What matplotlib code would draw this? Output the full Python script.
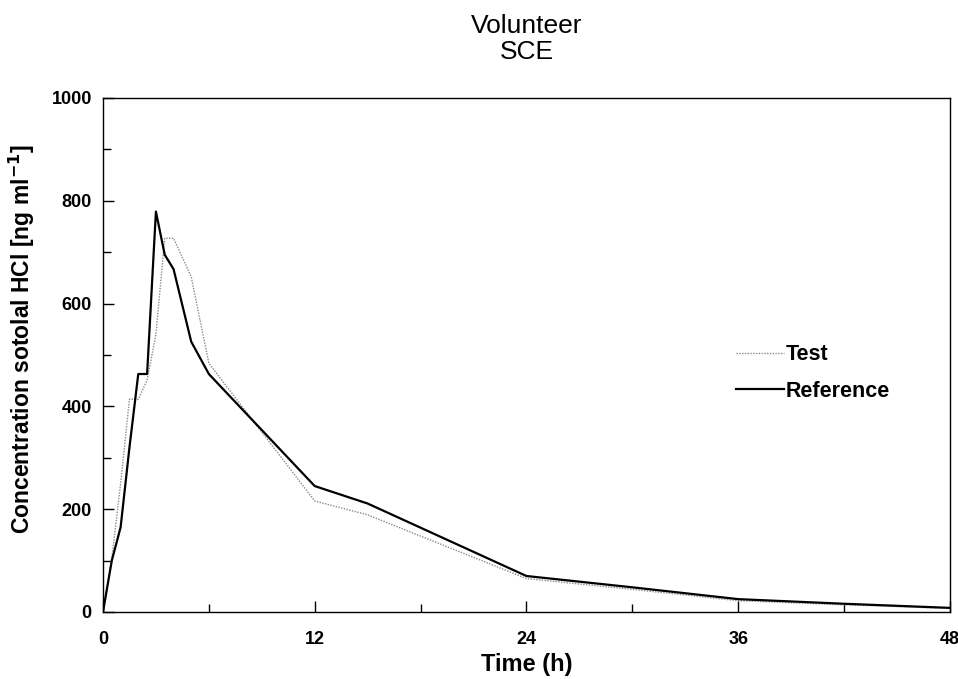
import numpy as np
import matplotlib
matplotlib.use("Agg")
from matplotlib import pyplot as plt
from matplotlib.ticker import MultipleLocator

plt.rcParams['font.family'] = ['Liberation Sans', 'DejaVu Sans']

# sampling times (h) and plasma levels
t_test = [0, 0.5, 1, 1.5, 2, 2.5, 3, 3.5, 4, 5, 6, 12, 15, 24, 30, 36, 42, 48]
c_test = [0, 105, 250, 414, 414, 451, 540, 727, 727, 652, 484, 216, 189, 65, 44, 22, 14, 7]

t_ref = [0, 0.5, 1, 1.5, 2, 2.5, 3, 3.5, 4, 5, 6, 12, 15, 24, 30, 36, 42, 48]
c_ref = [0, 100, 165, 320, 463, 463, 779, 695, 667, 526, 463, 245, 211, 70, 48, 25, 16, 8]

fig = plt.figure(figsize=(9.58, 6.79), dpi=100)
ax = fig.add_axes([0.1075, 0.0987, 0.884, 0.757])

ax.plot(t_test, c_test, color='#8a8a8a', lw=1.0, ls=(0, (1, 1)), label='Test')
ax.plot(t_ref, c_ref, color='black', lw=1.6, label='Reference')

ax.set_xlim(0, 48)
ax.set_ylim(0, 1000)
ax.xaxis.set_major_locator(MultipleLocator(12))
ax.xaxis.set_minor_locator(MultipleLocator(6))
ax.yaxis.set_major_locator(MultipleLocator(200))
ax.yaxis.set_minor_locator(MultipleLocator(100))
ax.tick_params(which='both', direction='in', width=1.0)
ax.tick_params(which='major', length=8, labelsize=13)
ax.tick_params(axis='y', which='major', pad=8)
ax.tick_params(axis='x', which='major', pad=14)
ax.tick_params(which='minor', length=6)
for lab in ax.get_xticklabels() + ax.get_yticklabels():
    lab.set_fontweight('bold')
for s in ax.spines.values():
    s.set_linewidth(1.0)

ax.set_xlabel('Time (h)', fontsize=17, fontweight='bold', labelpad=3)
ax.set_ylabel('Concentration sotolal HCl [ng ml$^{\\mathbf{-1}}$]', fontsize=16.5,
              fontweight='bold')
ax.yaxis.set_label_coords(-0.078, 0.53)
ax.set_title('Volunteer\nSCE', fontsize=19, linespacing=1.1, pad=28)

ax.legend(loc='center left', bbox_to_anchor=(0.725, 0.465), frameon=False,
          prop={'weight': 'bold', 'size': 15.5},
          handlelength=2.2, handletextpad=0.1, labelspacing=0.7)

fig.savefig('out.png', dpi=100)
